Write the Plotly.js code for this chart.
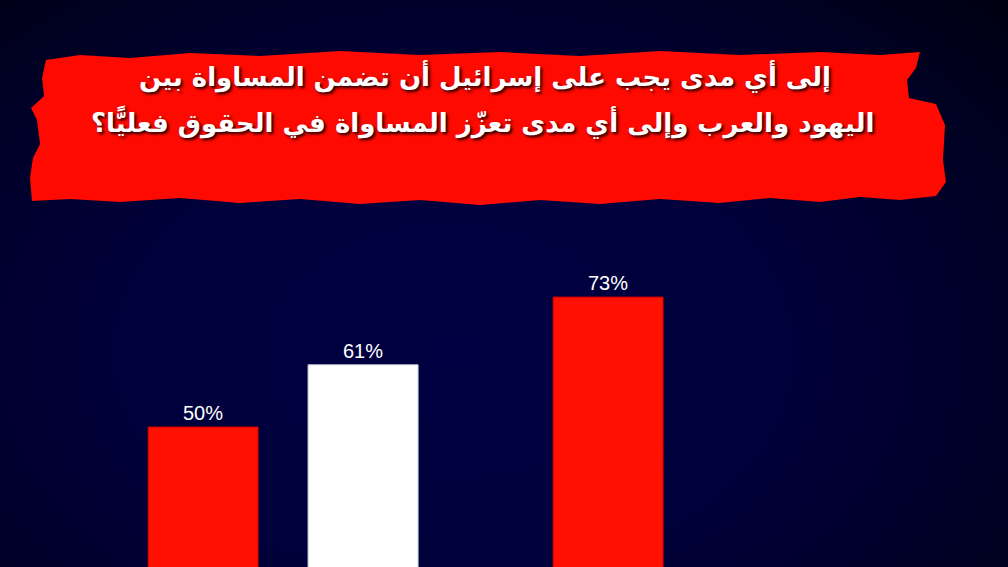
<!DOCTYPE html>
<html>
<head>
<meta charset="utf-8">
<script src="https://cdn.plot.ly/plotly-3.0.1.min.js"></script>
<style>
  html, body { margin: 0; padding: 0; }
  body {
    width: 1008px; height: 567px; overflow: hidden;
    background: radial-gradient(ellipse 75% 90% at 45% 62%, #000042 0%, #00003a 45%, #00002a 70%, #000012 100%);
  }
  #chart { width: 1008px; height: 567px; }
</style>
</head>
<body>
<div id="chart"></div>
<script>
var groups = ['ضمان المساواة', 'تعزيز المساواة فعليًا'];
var redValues = [50, 73];
var whiteValues = [61, null];
var titleLines = [
    'إلى أي مدى يجب على إسرائيل أن تضمن المساواة بين',
    'اليهود والعرب وإلى أي مدى تعزّز المساواة في الحقوق فعليًّا؟'
];

var W = 1008, H = 567;

// brush banner outline, in pixels
var brush = [
    [46,60],[80,55],[130,58],[190,53],[260,56],[340,51],[420,55],[500,52],[580,56],
    [660,51],[740,55],[820,52],[880,55],[920,52],[916,68],[907,80],[909,98],
    [936,104],[945,125],[943,160],[946,182],[936,196],[900,200],[860,197],[820,202],
    [770,198],[720,203],[660,199],[600,204],[540,200],[480,205],[420,200],[360,204],
    [300,199],[240,203],[180,198],[120,202],[70,199],[32,201],[30,178],[33,158],
    [40,144],[37,120],[31,108],[44,96],[42,78]
];

function toPath(pts) {
    return pts.map(function(p, i) {
        return (i === 0 ? 'M' : 'L') + (p[0] / W).toFixed(4) + ',' + (1 - p[1] / H).toFixed(4);
    }).join(' ') + ' Z';
}

function pctLabels(vals) {
    return vals.map(function(v) { return v === null ? '' : v + '%'; });
}

var labelFont = { family: 'Liberation Sans, Arial, sans-serif', size: 20, color: '#ffffff' };

var redTrace = {
    type: 'bar',
    x: [0, 1],
    y: redValues,
    offset: -0.3333,
    width: 0.2716,
    marker: { color: '#ff1000', line: { color: '#c00000', width: 1 } },
    text: pctLabels(redValues),
    textposition: 'outside',
    textfont: labelFont,
    cliponaxis: false,
    hoverinfo: 'skip'
};

var whiteTrace = {
    type: 'bar',
    x: [0, 1],
    y: whiteValues,
    offset: 0.0617,
    width: 0.2716,
    marker: { color: '#ffffff', line: { color: '#ccccdd', width: 1 } },
    text: pctLabels(whiteValues),
    textposition: 'outside',
    textfont: labelFont,
    cliponaxis: false,
    hoverinfo: 'skip'
};

var titleFont = {
    family: 'DejaVu Sans, sans-serif',
    size: 26,
    color: '#ffffff',
    weight: 'bold',
    shadow: '2px 2px 3px #200000'
};

var layout = {
    width: W,
    height: H,
    margin: { l: 0, r: 0, t: 0, b: 0 },
    paper_bgcolor: 'rgba(0,0,0,0)',
    plot_bgcolor: 'rgba(0,0,0,0)',
    barmode: 'overlay',
    showlegend: false,
    xaxis: {
        range: [-0.699, 1.790],
        showgrid: false, zeroline: false, showticklabels: false, showline: false,
        fixedrange: true
    },
    yaxis: {
        range: [25.2, 125.6],
        showgrid: false, zeroline: false, showticklabels: false, showline: false,
        fixedrange: true
    },
    shapes: [{
        type: 'path',
        xref: 'paper', yref: 'paper',
        path: toPath(brush),
        fillcolor: '#ff0a00',
        line: { width: 0 },
        layer: 'below'
    }],
    annotations: [
        {
            xref: 'paper', yref: 'paper',
            x: 485 / W, y: 1 - 77 / H,
            text: titleLines[0],
            showarrow: false,
            font: titleFont,
            xanchor: 'center', yanchor: 'middle'
        },
        {
            xref: 'paper', yref: 'paper',
            x: 482 / W, y: 1 - 122 / H,
            text: titleLines[1],
            showarrow: false,
            font: titleFont,
            xanchor: 'center', yanchor: 'middle'
        }
    ]
};

Plotly.newPlot('chart', [redTrace, whiteTrace], layout, { displayModeBar: false, staticPlot: true });
</script>
</body>
</html>
